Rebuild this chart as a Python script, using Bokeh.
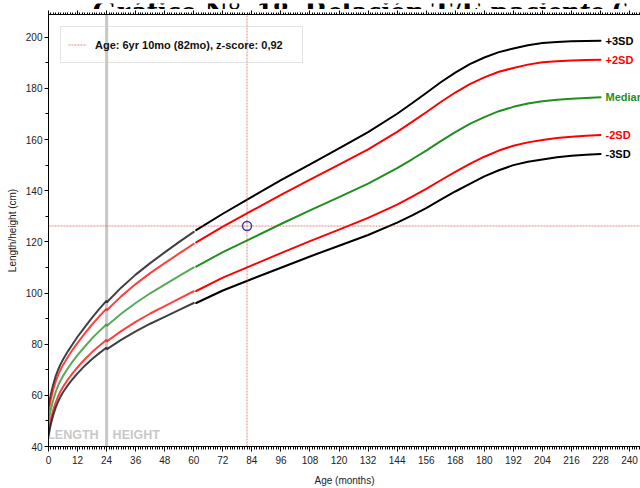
from bokeh.plotting import figure
from bokeh.layouts import column
from bokeh.models import (Range1d, LinearAxis, SingleIntervalTicker, Span,
                          Legend, LegendItem, CustomJSTickFormatter)
from bokeh.core.properties import value
from bokeh.embed import file_html
from bokeh.resources import INLINE

SANS = "Liberation Sans"
SERIF = "Liberation Serif"

title_text = "Gráfico N°. 18. Relación T/E paciente 6"
x_title = "Age (months)"
y_title = "Length/height (cm)"

# ---- WHO standard part (0-60 months) ----
age_std = [0, 1, 2, 3, 4, 5, 6, 8, 10, 12, 15, 18, 21, 24, 24, 30, 36, 42, 48, 54, 60]
std_p3 = [55.6, 60.6, 64.4, 67.6, 70.1, 72.2, 74.0, 77.2, 80.1, 82.9, 86.7, 90.4, 93.8, 97.0, 96.3,
          102.1, 107.2, 111.7, 115.9, 120.0, 123.9]
std_p2 = [53.7, 58.6, 62.4, 65.5, 68.0, 70.1, 71.9, 75.0, 77.9, 80.5, 84.2, 87.7, 90.9, 93.9, 93.2,
          98.7, 103.5, 107.8, 111.7, 115.5, 119.2]
std_md = [49.9, 54.7, 58.4, 61.4, 63.9, 65.9, 67.6, 70.6, 73.3, 75.7, 79.1, 82.3, 85.1, 87.8, 87.1,
          91.9, 96.1, 99.9, 103.3, 106.7, 110.0]
std_m2 = [46.1, 50.8, 54.4, 57.3, 59.7, 61.7, 63.3, 66.2, 68.7, 71.0, 74.1, 76.9, 79.4, 81.7, 81.0,
          85.1, 88.7, 92.0, 94.9, 97.8, 100.7]
std_m3 = [44.2, 48.9, 52.4, 55.3, 57.6, 59.6, 61.2, 64.0, 66.4, 68.6, 71.6, 74.2, 76.5, 78.7, 78.0,
          81.7, 85.0, 88.0, 90.7, 93.4, 96.1]

# ---- reference part (61-228 months) ----
age_ref = [61, 72, 84, 96, 108, 120, 132, 144, 150, 156, 162, 168, 174, 180, 186, 192, 198, 204,
           210, 216, 222, 228]
ref_p3 = [124.6, 131.0, 137.6, 144.1, 150.3, 156.6, 162.9, 170.1, 174.1, 178.2, 182.4, 186.2, 189.5,
          192.1, 194.2, 195.6, 196.9, 197.8, 198.1, 198.4, 198.5, 198.6]
ref_p2 = [119.8, 126.0, 132.2, 138.4, 144.3, 150.2, 156.2, 163.0, 166.8, 170.7, 174.7, 178.4, 181.7,
          184.3, 186.5, 188.0, 189.3, 190.2, 190.6, 190.9, 191.1, 191.2]
ref_md = [110.3, 116.0, 121.5, 127.0, 132.3, 137.5, 142.8, 148.8, 152.2, 155.7, 159.4, 162.9, 166.1,
          168.8, 171.1, 172.8, 174.1, 175.0, 175.6, 176.0, 176.3, 176.5]
ref_m2 = [100.8, 106.0, 110.8, 115.6, 120.3, 124.8, 129.4, 134.6, 137.6, 140.7, 144.1, 147.4, 150.5,
          153.3, 155.7, 157.6, 158.9, 159.8, 160.6, 161.1, 161.5, 161.8]
ref_m3 = [96.1, 101.0, 105.5, 109.9, 114.3, 118.5, 122.7, 127.5, 130.3, 133.2, 136.5, 139.7, 142.7,
          145.6, 148.0, 150.0, 151.3, 152.2, 153.1, 153.7, 154.1, 154.4]

curve_names = ["+3SD", "+2SD", "Median", "-2SD", "-3SD"]
curve_colors = ["#000000", "#ff0000", "#1f8f1f", "#ff0000", "#000000"]
std_curves = [std_p3, std_p2, std_md, std_m2, std_m3]
ref_curves = [ref_p3, ref_p2, ref_md, ref_m2, ref_m3]

patient_age = [82]
patient_height = [126.2]
patient_text = "Age: 6yr 10mo (82mo), z-score: 0,92"

phase_split = 24
phase_labels = ["LENGTH", "HEIGHT"]

x_major = 12
y_major = 20
X_END = 244.5
Y_START, Y_END = 40, 208.9

STRIP_H = 9  # height of the strip that shows the (cropped) chart title

# ---- cropped title strip ----
t = figure(width=640, height=STRIP_H, x_range=Range1d(0, 640), y_range=Range1d(0, STRIP_H),
           output_backend="svg", toolbar_location=None, x_axis_type=None, y_axis_type=None,
           min_border=0, min_border_left=0, min_border_right=0, min_border_top=0,
           min_border_bottom=0)
t.outline_line_color = None
t.xgrid.visible = False
t.ygrid.visible = False
t.text(x=[47], y=[2], text=[title_text], text_align="left", text_baseline="alphabetic",
       text_font=value(SERIF), text_font_size="32px", text_font_style="bold", text_color="black")

# ---- main figure ----
p = figure(width=640, height=488 - STRIP_H, x_range=Range1d(0, X_END),
           y_range=Range1d(Y_START, Y_END), output_backend="svg", toolbar_location=None,
           min_border_left=48, min_border_right=0, min_border_top=14 - STRIP_H,
           min_border_bottom=41)
p.outline_line_color = None
p.xgrid.visible = False
p.ygrid.visible = False
p.background_fill_color = "white"
p.border_fill_color = "white"

xa = p.below[0]
xa.ticker = SingleIntervalTicker(interval=x_major, num_minor_ticks=12)
ya = p.left[0]
ya.ticker = SingleIntervalTicker(interval=y_major, num_minor_ticks=2)
for ax in (xa, ya):
    ax.axis_line_color = "black"
    ax.major_tick_line_color = "black"
    ax.minor_tick_line_color = "black"
    ax.major_tick_in = 0
    ax.minor_tick_in = 0
    ax.major_label_text_font = SANS
    ax.major_label_text_font_size = "10px"
    ax.major_label_text_color = "#222222"
    ax.axis_label_text_font = SANS
    ax.axis_label_text_font_size = "10px"
    ax.axis_label_text_font_style = "normal"
    ax.axis_label_text_color = "#222222"
xa.major_tick_out = 5
xa.minor_tick_out = 3
xa.major_label_standoff = 4
xa.axis_label = x_title
xa.axis_label_standoff = 8
ya.major_tick_out = 4
ya.minor_tick_out = 3
ya.major_label_standoff = 2
ya.axis_label = y_title
ya.axis_label_standoff = 5

top = LinearAxis(ticker=SingleIntervalTicker(interval=x_major, num_minor_ticks=12),
                 formatter=CustomJSTickFormatter(code="return ''"),
                 major_label_standoff=0,
                 major_tick_out=4, minor_tick_out=2, major_tick_in=0, minor_tick_in=0,
                 axis_line_color="black")
p.add_layout(top, "above")

# length/height split
p.add_layout(Span(location=phase_split, dimension="height", line_color="#c8c8c8",
                  line_width=3, level="underlay"))
p.text(x=[phase_split], y=[44.4], text=[phase_labels[0]], text_align="right", text_baseline="middle",
       x_offset=-8, text_color="#c8c8c8", text_font=value(SANS), text_font_style="bold",
       text_font_size="12.5px")
p.text(x=[phase_split], y=[44.4], text=[phase_labels[1]], text_align="left", text_baseline="middle",
       x_offset=6, text_color="#c8c8c8", text_font=value(SANS), text_font_style="bold",
       text_font_size="12.5px")

# curves
for c, s_vals, r_vals in zip(curve_colors, std_curves, ref_curves):
    p.line(age_std, s_vals, line_color=c, line_width=2, line_alpha=0.75, line_cap="round")
    p.line(age_ref, r_vals, line_color=c, line_width=2, line_cap="round")

p.text(x=[age_ref[-1]] * 5, y=[v[-1] for v in ref_curves], text=curve_names, text_color=curve_colors,
       x_offset=5, text_baseline="middle", text_align="left", text_font=value(SANS),
       text_font_style="bold", text_font_size="11px")

# patient crosshair
cross_color = "#e03030"
vline = p.segment(x0=patient_age, x1=patient_age, y0=[Y_START], y1=[Y_END], line_color=cross_color,
                  line_alpha=0.6, line_dash="2 1", line_width=1)
p.segment(x0=[0], x1=[X_END], y0=patient_height, y1=patient_height, line_color=cross_color,
          line_alpha=0.6, line_dash="2 1", line_width=1)
p.scatter(patient_age, patient_height, marker="circle", size=9, fill_color=None,
          line_color="#3a3aa8", line_width=1.5)

legend = Legend(items=[LegendItem(label=patient_text, renderers=[vline])], location="top_left",
                margin=12, padding=7, glyph_width=19, glyph_height=21, label_height=21,
                label_width=200, label_standoff=8, border_line_color="#c8c8c8",
                border_line_width=1, background_fill_alpha=0, label_text_font=SANS,
                label_text_font_style="bold", label_text_font_size="11px",
                label_text_color="#111111")
p.add_layout(legend)

layout = column(t, p, spacing=0)
open("out.html", "w").write(file_html(layout, INLINE))
